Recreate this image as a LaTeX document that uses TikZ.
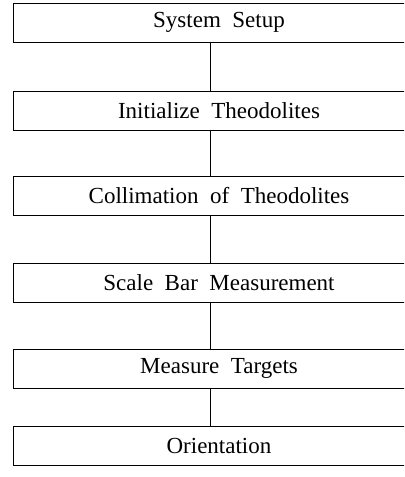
\documentclass[tikz,border=0pt]{standalone}
\usepackage{fontspec}
\setmainfont{Liberation Serif}
\usepackage{tikz}
\usetikzlibrary{calc}

\tikzset{
  stepbox/.style={draw, line width=0.5pt, minimum width=206pt, minimum height=19.5pt,
    inner sep=0pt, font=\fontsize{11.5}{14}\selectfont},
  link/.style={line width=0.5pt}
}

\begin{document}
\begin{tikzpicture}[x=0.5pt, y=-0.5pt]
                \clip (0,0) rectangle (404,477);

                \node[stepbox] (setup) at (219,22.5) {System\ \ Setup};
                \node[stepbox] (init) at (219,111) {Initialize\ \ Theodolites};
                \node[stepbox] (collim) at (219,196) {Collimation\ \ of\ \ Theodolites};
                \node[stepbox] (scale) at (219,283) {Scale\ \ Bar\ \ Measurement};
                \node[stepbox] (targets) at (219,368.5) {Measure\ \ Targets};
                \node[stepbox] (orient) at (219,445.5) {Orientation};

                \draw[link] ([xshift=-4.5pt]setup.south) -- ([xshift=-4.5pt]init.north);
                \draw[link] ([xshift=-4.5pt]init.south) -- ([xshift=-4.5pt]collim.north);
                \draw[link] ([xshift=-4.5pt]collim.south) -- ([xshift=-4.5pt]scale.north);
                \draw[link] ([xshift=-4.5pt]scale.south) -- ([xshift=-4.5pt]targets.north);
                \draw[link] ([xshift=-4.5pt]targets.south) -- ([xshift=-4.5pt]orient.north);
            \end{tikzpicture}
\end{document}
